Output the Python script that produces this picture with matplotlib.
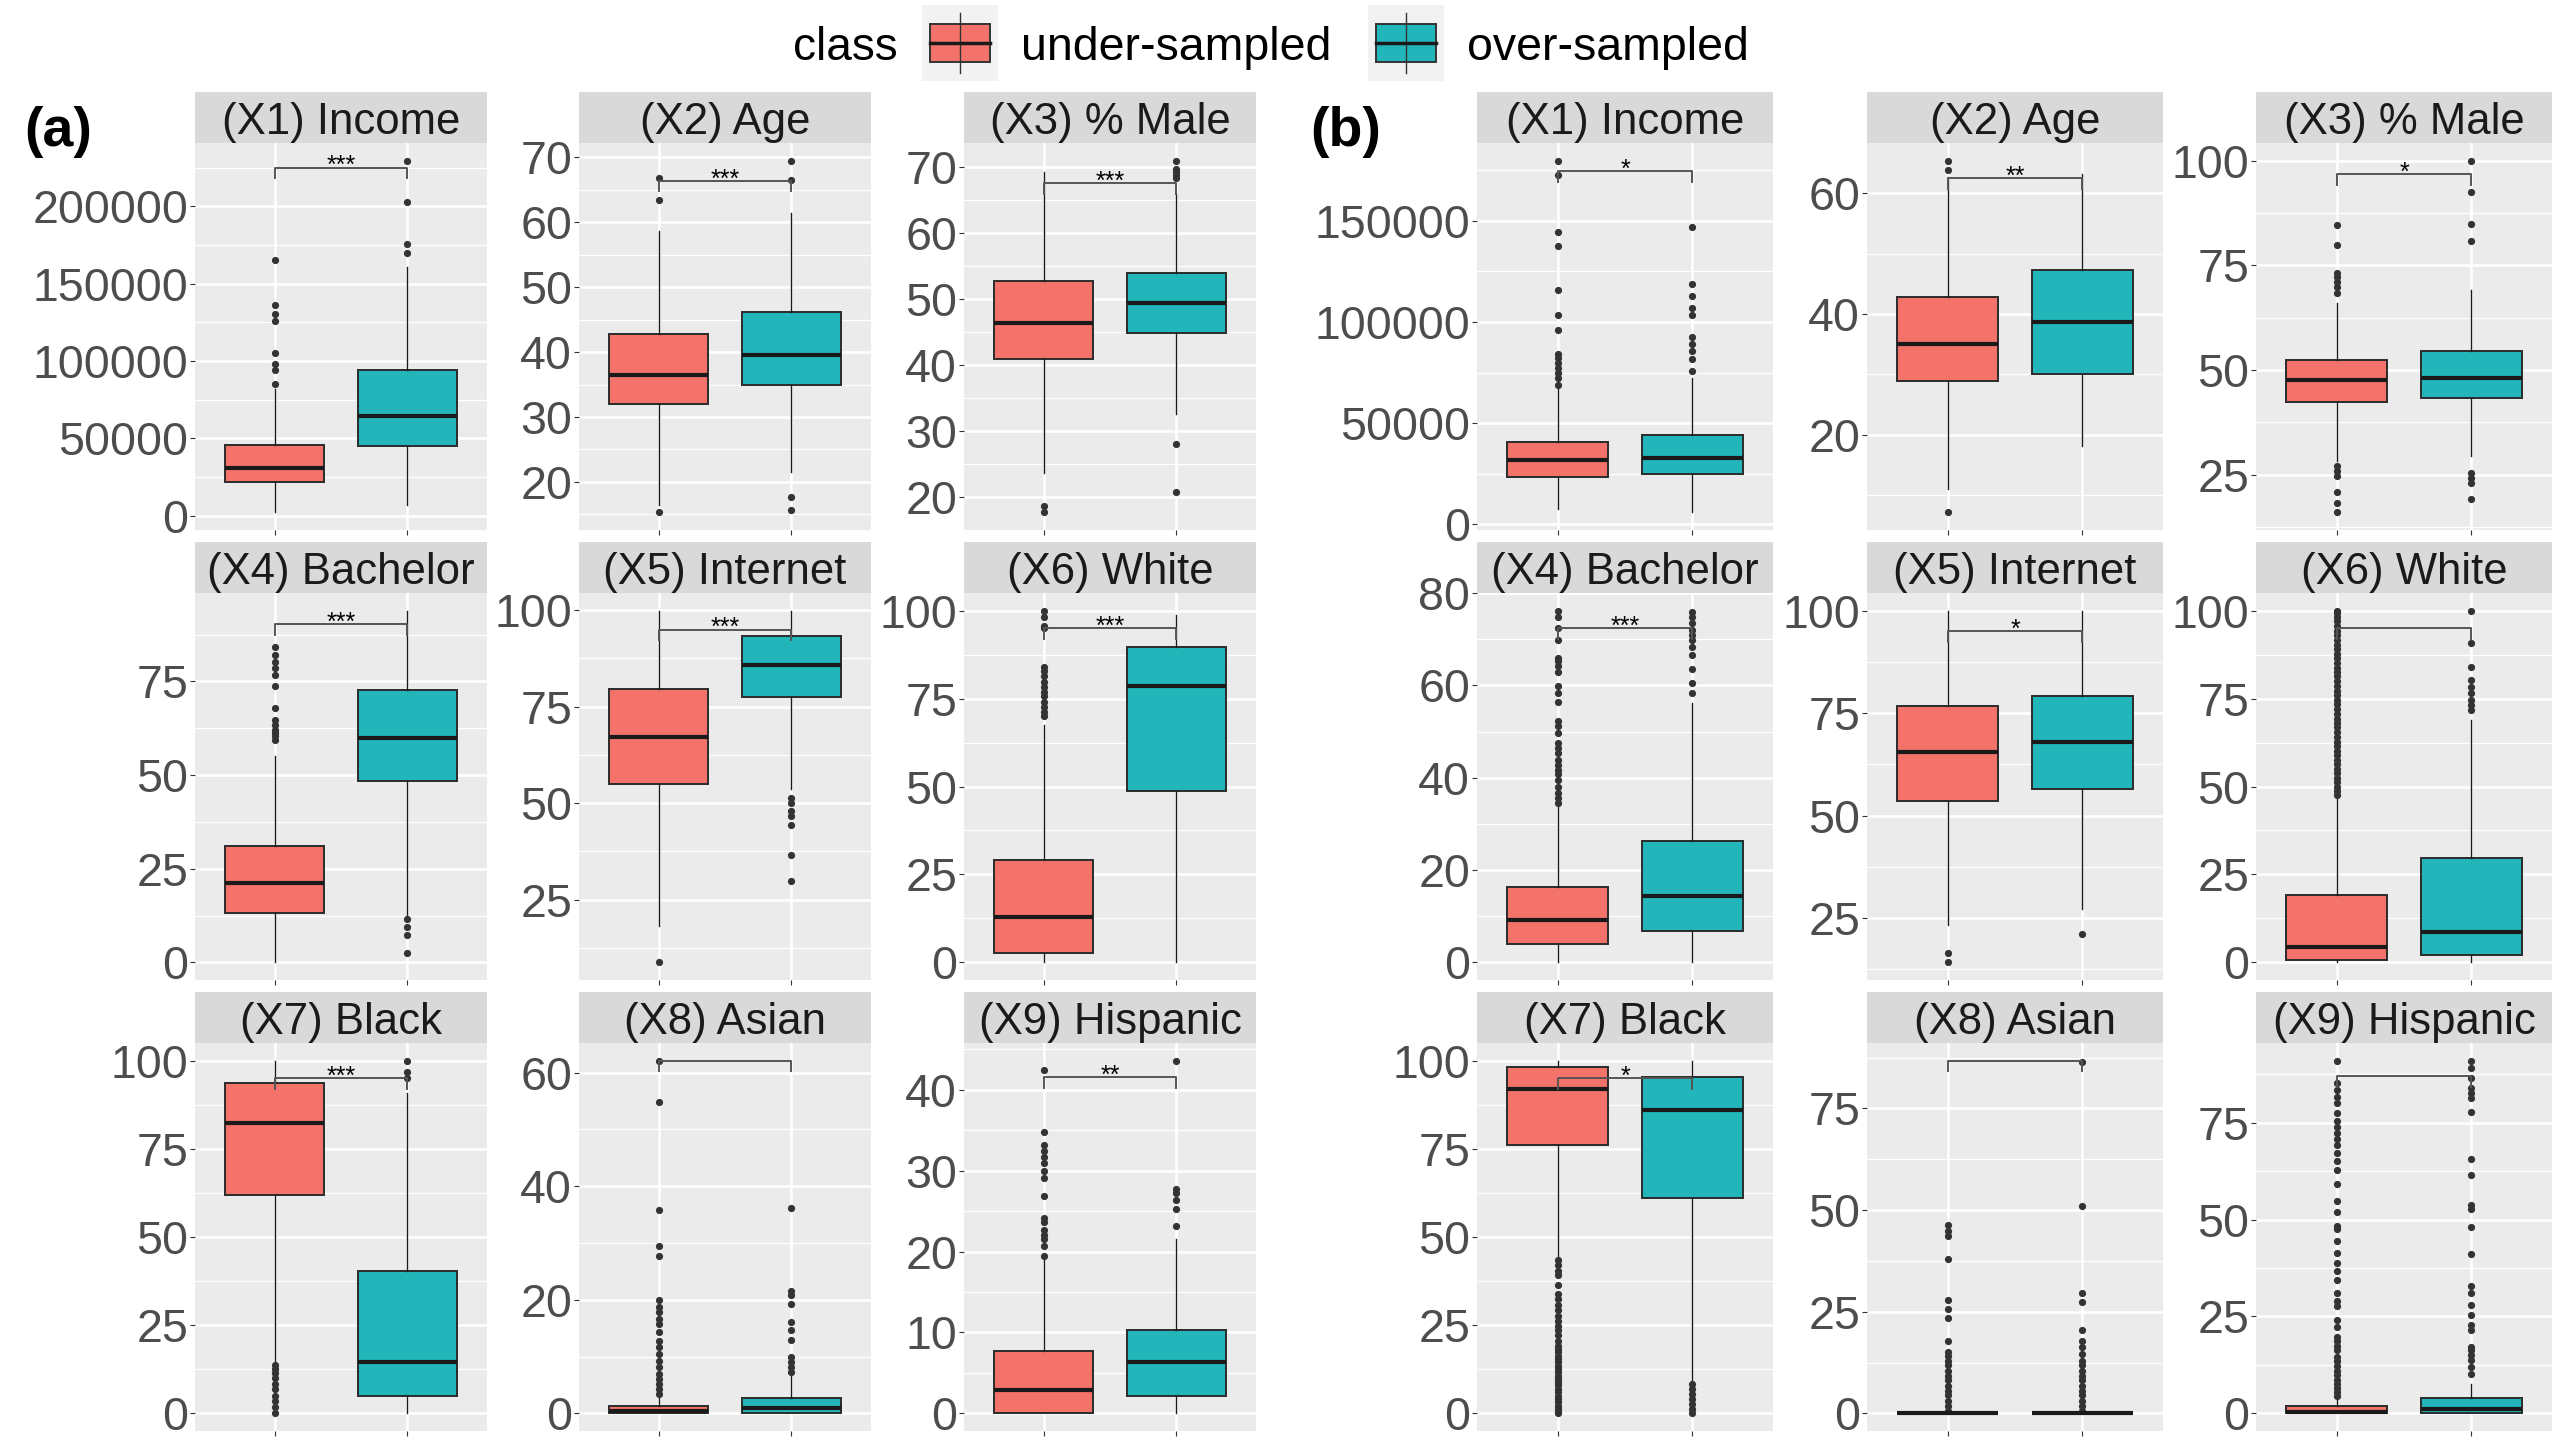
import matplotlib
matplotlib.use("Agg")
import matplotlib.pyplot as plt
from matplotlib.patches import Rectangle

plt.rcParams['font.family'] = ['Liberation Sans', 'DejaVu Sans']

# ---- data ----
titles = ['(X1) Income', '(X2) Age', '(X3) % Male',
          '(X4) Bachelor', '(X5) Internet', '(X6) White',
          '(X7) Black', '(X8) Asian', '(X9) Hispanic']
classes = ['under-sampled', 'over-sampled']

# box stats: [whisker low, q1, median, q3, whisker high]
a_under_stats = [[2200, 21600, 30900, 46000, 82000],
                 [16.5, 32.0, 36.4, 42.8, 58.7],
                 [23.7, 40.9, 46.4, 52.7, 69.2],
                 [0, 13.2, 21.3, 31.1, 55.0],
                 [18.1, 54.9, 67.1, 79.5, 99.9],
                 [0, 2.8, 12.8, 29.0, 67.5],
                 [14.5, 61.8, 82.4, 93.6, 100],
                 [0, 0, 0.35, 1.25, 2.8],
                 [0, 0, 2.9, 7.7, 19.3]]
a_over_stats = [[6700, 44900, 64200, 94400, 161100],
                [21.6, 35.0, 39.5, 46.1, 61.4],
                [32.6, 44.8, 49.4, 53.9, 65.8],
                [12.3, 48.3, 60.0, 72.6, 93.9],
                [53.7, 77.4, 85.7, 93.4, 99.9],
                [0, 48.8, 78.5, 89.6, 98.7],
                [0, 5.0, 14.7, 40.3, 90.7],
                [0, 0, 0.9, 2.7, 6.5],
                [0, 2.1, 6.4, 10.3, 21.5]]
b_under_stats = [[7600, 23300, 31800, 40800, 67100],
                 [10.9, 28.9, 35.0, 42.8, 62.6],
                 [28.3, 42.4, 47.7, 52.4, 66.1],
                 [0, 4.0, 9.2, 16.3, 34.2],
                 [23.4, 53.6, 65.5, 76.8, 100],
                 [0, 0.6, 4.4, 19.2, 47.2],
                 [43.9, 76.2, 91.9, 98.1, 100],
                 [0, 0, 0, 0, 0],
                 [0, 0, 0.3, 1.8, 3.7]]
b_over_stats = [[5900, 25000, 32600, 44200, 72200],
                [18.1, 30.0, 38.6, 47.2, 63.1],
                [29.5, 43.2, 48.0, 54.5, 69.0],
                [0, 6.7, 14.3, 26.4, 56.2],
                [27.2, 56.4, 68.0, 79.2, 100],
                [0, 2.0, 8.6, 29.6, 68.9],
                [8.8, 61.1, 85.9, 95.5, 100],
                [0, 0, 0, 0, 0],
                [0, 0, 1.0, 4.0, 7.5]]

a_under_fliers = [[85300, 94400, 98200, 105100, 125600, 130700, 136200, 165600],
                  [15.3, 63.4, 66.8],
                  [17.7, 18.7],
                  [59.4, 60.3, 61.2, 62.1, 63.4, 64.8, 67.9, 73.7, 76.8, 78.6, 80.3, 82.1, 84.2],
                  [8.75],
                  [69.9, 71.3, 72.7, 74.1, 75.6, 77.0, 78.4, 79.8, 81.3, 82.7, 84.1, 95.0, 95.6, 98.3, 100],
                  [0, 1.7, 3.6, 5.0, 6.9, 8.3, 10.0, 11.4, 12.6, 13.8],
                  [3.4, 4.3, 5.2, 6.1, 6.9, 8.1, 9.3, 10.5, 11.6, 12.8, 14.3, 15.8, 16.6, 17.8,
                   18.7, 19.9, 27.7, 29.5, 35.8, 54.9, 62.1],
                  [19.5, 20.7, 21.5, 22.1, 22.7, 23.6, 24.1, 26.9, 29.1, 30.0, 31.0, 31.7, 32.4,
                   33.2, 34.8, 42.4]]
a_over_fliers = [[170000, 175600, 202700, 229600],
                 [15.7, 17.6, 66.5, 69.5],
                 [20.8, 28.0, 68.2, 68.7, 69.2, 69.7, 70.9],
                 [2.5, 7.2, 9.4, 11.6],
                 [29.9, 36.7, 44.4, 46.6, 47.9, 50.1, 51.4],
                 [],
                 [95.0, 96.9, 100],
                 [7.2, 8.1, 9.0, 9.9, 12.9, 14.6, 16.1, 19.3, 20.9, 21.6, 36.1],
                 [23.1, 25.3, 26.4, 27.2, 27.7, 43.6]]
b_under_fliers = [[68800, 72200, 74700, 77300, 79800, 82400, 84100, 96000, 103600, 115900,
                   137600, 144400, 172400, 179700],
                  [7.1, 63.9, 65.4],
                  [16.0, 18.3, 20.9, 24.6, 25.8, 27.0, 68.5, 69.8, 71.0, 72.2, 73.2, 79.8, 84.6],
                  [34.5, 35.6, 36.7, 38.1, 39.6, 40.7, 41.7, 42.8, 43.9, 45.3, 46.4, 47.5, 49.7,
                   51.1, 52.2, 56.5, 58.3, 59.8, 63.0, 64.1, 65.2, 65.9, 69.9, 72.4, 74.9, 76.2],
                  [14.2, 16.6],
                  [47.5, 48.6, 49.9, 51.2, 52.3, 53.8, 55.0, 56.4, 57.5, 58.9, 60.2, 61.6, 62.7,
                   64.1, 65.5, 66.8, 68.0, 69.3, 70.7, 72.0, 73.4, 74.6, 76.0, 77.2, 78.5, 79.9,
                   81.3, 82.5, 83.8, 85.1, 86.4, 87.7, 89.0, 90.3, 91.7, 93.0, 94.2, 95.6, 96.9,
                   98.1, 99.3, 100],
                  [0, 0.3, 1.2, 2.2, 3.1, 4.1, 5.0, 6.0, 6.9, 7.9, 8.8, 9.8, 10.7, 11.6, 12.6,
                   13.5, 14.5, 15.4, 16.4, 17.3, 18.3, 19.2, 20.6, 22.1, 23.5, 24.9, 26.3, 27.7,
                   29.2, 30.6, 32.5, 33.9, 36.3, 39.1, 40.5, 42.0, 43.4],
                  [0.7, 1.9, 3.1, 4.4, 5.6, 6.8, 8.1, 9.3, 10.5, 11.8, 13.0, 14.2, 15.0, 17.9,
                   23.5, 25.7, 27.9, 38.0, 43.5, 44.9, 46.3],
                  [4.5, 5.5, 6.5, 7.5, 8.6, 9.8, 11.0, 12.2, 13.5, 14.6, 16.3, 17.5, 18.6, 19.8,
                   22.4, 24.0, 27.6, 29.0, 31.0, 34.5, 36.7, 38.8, 41.5, 44.5, 47.6, 48.4, 51.9,
                   54.9, 59.2, 62.7, 65.0, 67.2, 69.3, 70.8, 72.4, 74.0, 75.3, 77.4, 80.1, 81.7,
                   83.3, 85.2, 91.0]]
b_over_fliers = [[75600, 81500, 85800, 89200, 92600, 103600, 107000, 112600, 118600, 147000],
                 [],
                 [19.2, 23.0, 24.2, 25.4, 80.9, 84.8, 92.6, 100],
                 [58.3, 60.5, 63.6, 66.6, 68.4, 69.9, 71.0, 72.0, 73.5, 74.8, 75.8],
                 [21.1],
                 [71.8, 73.2, 74.6, 76.5, 78.4, 80.3, 84.1, 90.7, 100],
                 [0, 1.2, 2.7, 4.1, 5.5, 6.9, 8.3],
                 [0.7, 1.9, 3.1, 4.4, 5.6, 6.8, 8.1, 9.3, 10.5, 11.8, 13.0, 14.6, 16.3, 17.9,
                  20.4, 27.4, 29.7, 50.9, 86.5],
                 [10.2, 12.0, 13.7, 15.0, 16.3, 17.2, 21.5, 22.8, 25.4, 28.0, 31.0, 32.8, 41.0,
                  48.2, 52.7, 53.8, 61.4, 65.5, 77.7, 81.3, 82.6, 83.9, 86.5, 89.1, 91.0]]

# significance brackets
a_signif_y = [225100, 66.35, 67.5, 90.3, 95.0, 95.0, 95.0, 62.06, 41.57]
a_signif_labels = ['***', '***', '***', '***', '***', '***', '***', '', '**']
b_signif_y = [174500, 62.5, 96.7, 72.4, 95.0, 95.0, 95.0, 86.75, 87.0]
b_signif_labels = ['*', '**', '*', '***', '*', '', '*', '', '']

a_yticks = [[0, 50000, 100000, 150000, 200000], [20, 30, 40, 50, 60, 70],
            [20, 30, 40, 50, 60, 70], [0, 25, 50, 75], [25, 50, 75, 100],
            [0, 25, 50, 75, 100], [0, 25, 50, 75, 100], [0, 20, 40, 60],
            [0, 10, 20, 30, 40]]
b_yticks = [[0, 50000, 100000, 150000], [20, 40, 60], [25, 50, 75, 100],
            [0, 20, 40, 60, 80], [25, 50, 75, 100], [0, 25, 50, 75, 100],
            [0, 25, 50, 75, 100], [0, 25, 50, 75], [0, 25, 50, 75]]

# ---- style ----
W, H = 2552, 1438
fills = ['#F3736A', '#22B6BA']
panel_bg = '#EBEBEB'
strip_bg = '#D9D9D9'
tick_col = '#4D4D4D'

a_lefts = [195, 579, 964]
b_lefts = [1477, 1867, 2256]
a_width, b_width = 292, 296
strip_tops = [92, 542, 992]
strip_h = 51
panel_bottoms = [530, 980, 1431]


def rect(left, top, width, height):
    return [left / W, 1 - (top + height) / H, width / W, height / H]


fig = plt.figure(figsize=(W / 100, H / 100), dpi=100)


def draw_panel(left, width, row, title, under, over, fl_u, fl_o, sig_y, sig_lab, yticks):
    top = strip_tops[row] + strip_h
    ax = fig.add_axes(rect(left, top, width, panel_bottoms[row] - top))
    ax.set_facecolor(panel_bg)
    for s in ax.spines.values():
        s.set_visible(False)

    stats = []
    for st, fl in ((under, fl_u), (over, fl_o)):
        stats.append(dict(whislo=st[0], q1=st[1], med=st[2], q3=st[3], whishi=st[4], fliers=fl))
    bp = ax.bxp(stats, positions=[1, 2], widths=0.75, patch_artist=True, showcaps=False,
                boxprops=dict(edgecolor='#2B2B2B', linewidth=1.4),
                medianprops=dict(color='#1A1A1A', linewidth=3.0),
                whiskerprops=dict(color='#1A1A1A', linewidth=1.0),
                flierprops=dict(marker='o', markersize=5.2, markerfacecolor='#333333',
                                markeredgecolor='none'),
                zorder=3)
    for patch, c in zip(bp['boxes'], fills):
        patch.set_facecolor(c)

    # y range as ggplot: data range + 5 %
    vals = under + over + fl_u + fl_o + [sig_y]
    lo, hi = min(vals), max(vals)
    pad = (hi - lo) * 0.05
    ax.set_xlim(0.4, 2.6)

    tip = 0.027 * (hi - lo + 2 * pad)
    ax.plot([1, 1, 2, 2], [sig_y - tip, sig_y, sig_y, sig_y - tip],
            color='#555555', linewidth=1.4, zorder=4)
    if sig_lab:
        ax.annotate(sig_lab, xy=(1.5, sig_y), xytext=(0, -4), textcoords='offset points',
                    ha='center', va='baseline', fontsize=18, color='black', zorder=5)

    step = yticks[1] - yticks[0]
    minor = [yticks[0] - step / 2] + [t + step / 2 for t in yticks]
    ax.set_yticks(yticks)
    ax.set_yticklabels([str(t) for t in yticks])
    ax.set_yticks(minor, minor=True)
    ax.set_xticks([1, 2])
    ax.set_xticklabels([])
    ax.set_ylim(lo - pad, hi + pad)
    ax.grid(which='major', color='white', linewidth=1.8, zorder=0)
    ax.grid(which='minor', axis='y', color='white', linewidth=0.9, zorder=0)
    ax.set_axisbelow(True)
    ax.tick_params(axis='both', which='major', length=3.5, width=0.8, color='#333333',
                   labelsize=33.5, labelcolor=tick_col, pad=1.5)
    ax.tick_params(which='minor', length=0)

    sax = fig.add_axes(rect(left, strip_tops[row], width, strip_h))
    sax.set_facecolor(strip_bg)
    sax.set_xticks([])
    sax.set_yticks([])
    for s in sax.spines.values():
        s.set_visible(False)
    sax.text(0.5, 0.40, title, ha='center', va='center', fontsize=31.5, color='#1A1A1A',
             transform=sax.transAxes)


for i in range(9):
    row, col = divmod(i, 3)
    draw_panel(a_lefts[col], a_width, row, titles[i], a_under_stats[i], a_over_stats[i],
               a_under_fliers[i], a_over_fliers[i], a_signif_y[i], a_signif_labels[i],
               a_yticks[i])
    draw_panel(b_lefts[col], b_width, row, titles[i], b_under_stats[i], b_over_stats[i],
               b_under_fliers[i], b_over_fliers[i], b_signif_y[i], b_signif_labels[i],
               b_yticks[i])

fig.text(24 / W, 1 - 132 / H, '(a)', fontsize=40, fontweight='bold', va='center', ha='left')
fig.text(1310 / W, 1 - 132 / H, '(b)', fontsize=40, fontweight='bold', va='center', ha='left')

# legend
fig.text(793 / W, 1 - 60 / H, 'class', fontsize=33, va='baseline', ha='left', color='black')
key_lefts = [922, 1368]
text_lefts = [1021, 1467]
for kl, tl, c, lab in zip(key_lefts, text_lefts, fills, classes):
    kax = fig.add_axes(rect(kl, 5, 76, 76))
    kax.set_facecolor('#F2F2F2')
    kax.set_xlim(0, 76)
    kax.set_ylim(76, 0)
    kax.set_xticks([])
    kax.set_yticks([])
    for s in kax.spines.values():
        s.set_visible(False)
    kax.plot([38, 38], [8, 68], color='#333333', linewidth=1.0)
    kax.add_patch(Rectangle((8, 19), 60, 38, facecolor=c, edgecolor='#333333', linewidth=1.4))
    kax.plot([8, 68], [38, 38], color='#1A1A1A', linewidth=2.5)
    fig.text(tl / W, 1 - 60 / H, lab, fontsize=33.5, va='baseline', ha='left', color='black')

fig.savefig('out.png', dpi=100, facecolor='white')
